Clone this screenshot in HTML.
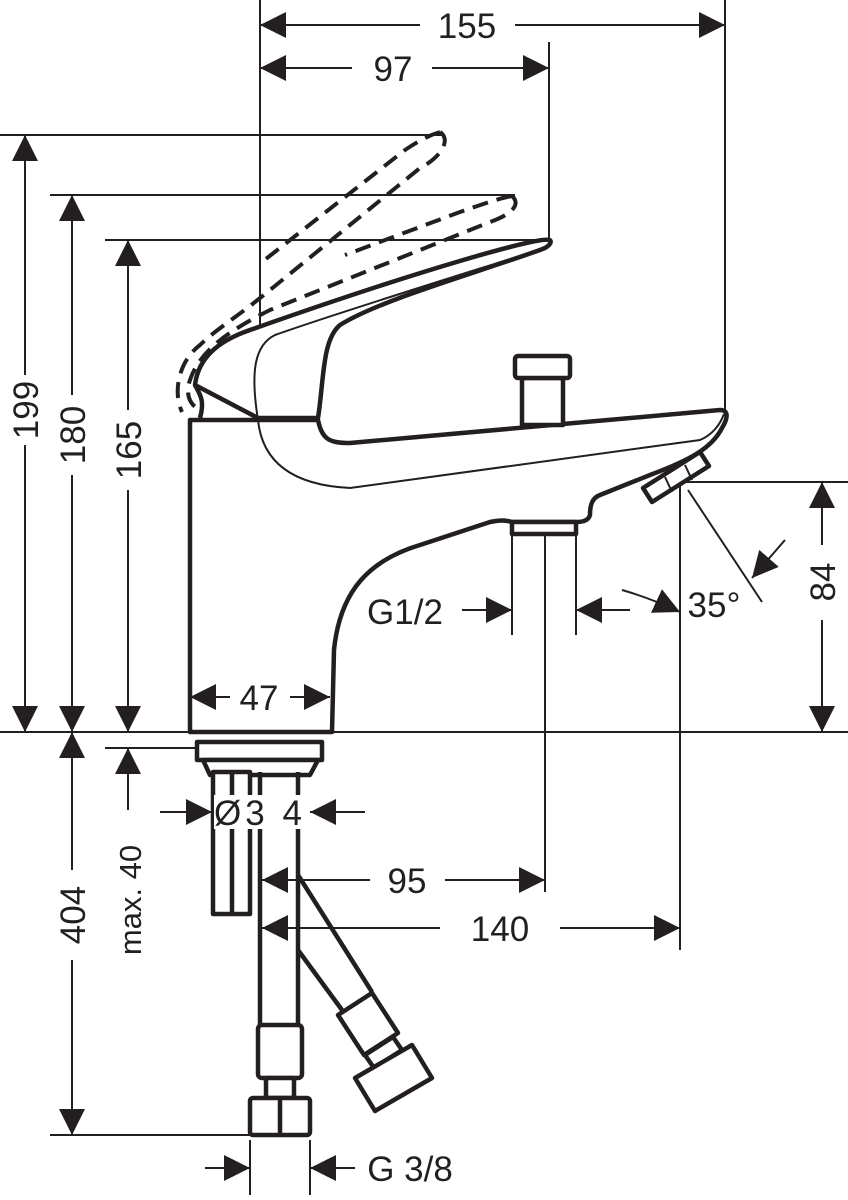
<!DOCTYPE html>
<html><head><meta charset="utf-8"><style>
html,body{margin:0;padding:0;background:#fff}
svg{display:block}
text{font-family:"Liberation Sans",sans-serif;font-size:35px;fill:#231f20}
</style></head><body>
<svg width="848" height="1200" viewBox="0 0 848 1200" xmlns="http://www.w3.org/2000/svg">
<defs>
<marker id="a" viewBox="0 0 10 10" refX="10" refY="5" markerWidth="26" markerHeight="26" markerUnits="userSpaceOnUse" orient="auto-start-reverse"><path d="M0,0 L10,5 L0,10 z" fill="#231f20"/></marker>
</defs>
<g stroke="#231f20" stroke-width="2" fill="none">
<line x1="260" y1="0" x2="260" y2="480"/>
<line x1="549" y1="42" x2="549" y2="240"/>
<line x1="725" y1="0" x2="725" y2="410"/>
<line x1="0" y1="135" x2="445" y2="135"/>
<line x1="50" y1="195" x2="515" y2="195"/>
<line x1="105" y1="240" x2="545" y2="240"/>
<line x1="0" y1="732" x2="848" y2="732"/>
<line x1="105" y1="748" x2="195" y2="748"/>
<line x1="50" y1="1135" x2="250" y2="1135"/>
<line x1="680" y1="482" x2="848" y2="482"/>
<line x1="680" y1="482" x2="680" y2="950"/>
<line x1="545" y1="535" x2="545" y2="892"/>
<line x1="512" y1="535" x2="512" y2="635"/>
<line x1="576" y1="535" x2="576" y2="635"/>
<line x1="250" y1="1140" x2="250" y2="1195"/>
<line x1="310" y1="1140" x2="310" y2="1195"/>
<line x1="688" y1="490" x2="762" y2="602"/>
<line x1="260" y1="25" x2="420" y2="25" marker-start="url(#a)"/>
<line x1="515" y1="25" x2="725" y2="25" marker-end="url(#a)"/>
<line x1="260" y1="68" x2="352" y2="68" marker-start="url(#a)"/>
<line x1="432" y1="68" x2="549" y2="68" marker-end="url(#a)"/>
<line x1="25" y1="135" x2="25" y2="375" marker-start="url(#a)"/>
<line x1="25" y1="445" x2="25" y2="732" marker-end="url(#a)"/>
<line x1="72" y1="195" x2="72" y2="395" marker-start="url(#a)"/>
<line x1="72" y1="475" x2="72" y2="732" marker-end="url(#a)"/>
<line x1="128" y1="240" x2="128" y2="410" marker-start="url(#a)"/>
<line x1="128" y1="490" x2="128" y2="732" marker-end="url(#a)"/>
<line x1="72" y1="732" x2="72" y2="870" marker-start="url(#a)"/>
<line x1="72" y1="960" x2="72" y2="1135" marker-end="url(#a)"/>
<line x1="128" y1="748" x2="128" y2="810" marker-start="url(#a)"/>
<line x1="822" y1="482" x2="822" y2="545" marker-start="url(#a)"/>
<line x1="822" y1="620" x2="822" y2="732" marker-end="url(#a)"/>
<line x1="160" y1="812" x2="212" y2="812" marker-end="url(#a)"/>
<line x1="365" y1="812" x2="310" y2="812" marker-end="url(#a)"/>
<line x1="370" y1="880" x2="262" y2="880" marker-end="url(#a)"/>
<line x1="445" y1="880" x2="545" y2="880" marker-end="url(#a)"/>
<line x1="440" y1="928" x2="262" y2="928" marker-end="url(#a)"/>
<line x1="560" y1="928" x2="680" y2="928" marker-end="url(#a)"/>
<line x1="462" y1="610" x2="512" y2="610" marker-end="url(#a)"/>
<line x1="630" y1="610" x2="576" y2="610" marker-end="url(#a)"/>
<path d="M622,590 Q650,598 680,612" marker-end="url(#a)"/>
<line x1="785" y1="540" x2="752" y2="578" marker-end="url(#a)"/>
<line x1="205" y1="1168" x2="250" y2="1168" marker-end="url(#a)"/>
<line x1="355" y1="1168" x2="310" y2="1168" marker-end="url(#a)"/>
</g>
<g stroke="#231f20" stroke-width="4" fill="none" stroke-dasharray="16,9">
<path d="M440,132 C452,140 440,158 420,168 L270,290 C240,315 215,330 200,345 C180,360 172,390 182,412"/>
<path d="M440,132 C430,135 420,140 405,150 L262,262"/>
<path d="M512,196 C522,205 510,215 490,222 L270,310 C230,330 200,350 190,380 C185,395 190,405 200,410"/>
<path d="M512,196 C500,198 480,205 460,212 L345,255"/>
</g>
<g stroke="#231f20" stroke-width="4.5" fill="#fff" stroke-linejoin="round">
<path d="M190,732 L190,420 L318,420 C322,440 330,443 350,443 L720,410 C730,410 727,420 722,428 C712,448 690,460 650,475 L600,495 C592,498 590,505 590,515 C588,522 580,522 575,522 L512,522 C505,520 500,520 490,522 L420,545 C370,560 340,590 334,650 L332,732 Z"/>
<path d="M549,240 C540,236 420,270 250,330 C215,342 198,360 195,385 L258,418 L318,418 C324,380 322,340 340,325 C380,300 470,275 540,250 C552,246 552,240 549,240 Z"/>
<path d="M195,385 C200,395 205,400 200,418"/>
<rect x="522" y="378" width="41" height="47"/>
<rect x="515" y="356" width="55" height="22" rx="3"/>
<rect x="512" y="522" width="64" height="12"/>
<path d="M643,488 L700,452 L709,466 L652,502 Z"/>
</g>
<g stroke="#231f20" stroke-width="2" fill="none">
<path d="M545,248 C460,275 340,312 275,335 C255,345 250,370 258,420 C262,460 290,485 350,488 L700,440 C712,435 720,425 724,414"/>
<path d="M665,477 L672,492 M685,465 L692,480"/>
<line x1="230" y1="697" x2="190" y2="697" marker-end="url(#a)"/>
<line x1="290" y1="697" x2="330" y2="697" marker-end="url(#a)"/>
</g>
<g stroke="#231f20" stroke-width="4.5" fill="#fff" stroke-linejoin="round">
<rect x="197" y="742" width="125" height="18"/>
<path d="M203,760 L318,760 L310,775 L210,775 Z"/>
<rect x="213" y="772" width="37" height="142"/>
<line x1="232" y1="772" x2="232" y2="914"/>
<line x1="260" y1="772" x2="260" y2="1025"/>
<line x1="298" y1="772" x2="298" y2="1025"/>
<path d="M298,875 L372,992 M298,950 L342,1010"/>
<rect x="258" y="1025" width="44" height="53" rx="4"/>
<rect x="266" y="1078" width="28" height="20"/>
<rect x="250" y="1098" width="60" height="37" rx="3"/>
<line x1="280" y1="1098" x2="280" y2="1135"/>
<path d="M338,1015 L372,993 L398,1033 L364,1055 Z"/>
<path d="M365,1055 L393,1037 L402,1050 L374,1068 Z"/>
<path d="M355,1078 L412,1045 L432,1078 L375,1111 Z"/>
</g>
<g>
<rect x="420" y="8" width="95" height="34" fill="#fff"/>
<text x="467" y="38" text-anchor="middle">155</text>
<text x="393" y="81" text-anchor="middle">97</text>
<text transform="translate(38,410) rotate(-90)" text-anchor="middle">199</text>
<text transform="translate(85,435) rotate(-90)" text-anchor="middle">180</text>
<text transform="translate(141,450) rotate(-90)" text-anchor="middle">165</text>
<text transform="translate(85,915) rotate(-90)" text-anchor="middle">404</text>
<text transform="translate(141,900) rotate(-90)" text-anchor="middle" style="font-size:31px">max. 40</text>
<text transform="translate(835,582) rotate(-90)" text-anchor="middle">84</text>
<text x="259" y="710" text-anchor="middle">47</text>
<rect x="214" y="795" width="92" height="34" fill="#fff"/>
<text x="260" y="825" text-anchor="middle" style="letter-spacing:4px">Ø3 4</text>
<text x="407" y="893" text-anchor="middle">95</text>
<text x="500" y="941" text-anchor="middle">140</text>
<text x="405" y="624" text-anchor="middle">G1/2</text>
<text x="714" y="617" text-anchor="middle">35°</text>
<text x="410" y="1181" text-anchor="middle">G 3/8</text>
</g>
</svg>
</body></html>
